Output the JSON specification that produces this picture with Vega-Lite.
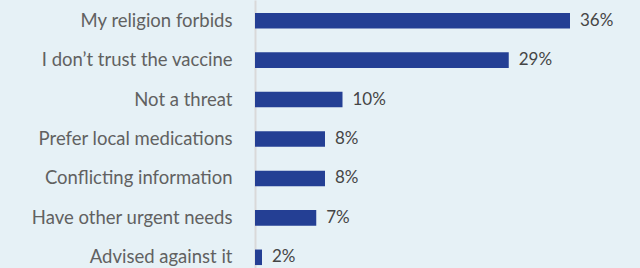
{
  "$schema": "https://vega.github.io/schema/vega-lite/v6.json",
  "width": 385,
  "height": 278,
  "autosize": {"type": "none"},
  "padding": {"left": 255, "top": 0, "right": 0, "bottom": 0},
  "background": "#e6f1f6",
  "config": {
    "view": {"stroke": null},
    "font": "Lato"
  },
  "data": {
    "values": [
      {"reason": "My religion forbids", "pct": 36, "label": "36%"},
      {"reason": "I don’t trust the vaccine", "pct": 29, "label": "29%"},
      {"reason": "Not a threat", "pct": 10, "label": "10%"},
      {"reason": "Prefer local medications", "pct": 8, "label": "8%"},
      {"reason": "Conflicting information", "pct": 8, "label": "8%"},
      {"reason": "Have other urgent needs", "pct": 7, "label": "7%"},
      {"reason": "Advised against it", "pct": 0.8, "label": "2%"}
    ]
  },
  "encoding": {
    "y": {
      "field": "reason",
      "type": "nominal",
      "sort": null,
      "scale": {"paddingInner": 0.606, "paddingOuter": 0.328},
      "axis": {
        "title": null,
        "ticks": false,
        "domainColor": "#d9d9d9",
        "domainWidth": 2,
        "labelPadding": 23,
        "labelFontSize": 18.5,
        "labelColor": "#616161",
        "labelLimit": 300
      }
    },
    "x": {
      "field": "pct",
      "type": "quantitative",
      "scale": {"domain": [0, 44], "nice": false},
      "axis": null
    }
  },
  "layer": [
    {"mark": {"type": "bar", "color": "#243f94"}},
    {
      "mark": {"type": "text", "align": "left", "dx": 10, "fontSize": 17, "color": "#454545"},
      "encoding": {"text": {"field": "label"}}
    }
  ]
}
